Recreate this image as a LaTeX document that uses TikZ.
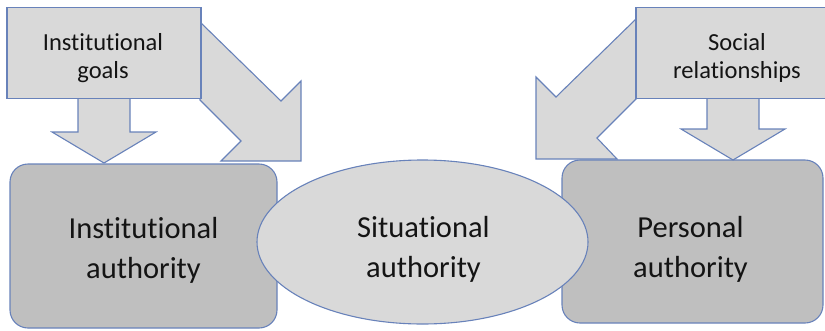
\documentclass[tikz,border=0pt]{standalone}
\usepackage{fontspec}
\setmainfont[Ligatures={NoCommon}]{Carlito}
\usetikzlibrary{shapes.geometric}
\definecolor{edgeblue}{RGB}{104,130,186}
\definecolor{lightfill}{RGB}{217,217,217}
\definecolor{darkfill}{RGB}{191,191,191}
\definecolor{txt}{RGB}{20,20,20}
\tikzset{
  base/.style={draw=edgeblue, line width=1.1pt, line join=miter},
  srcbox/.style={base, fill=lightfill, rectangle, minimum width=194pt, minimum height=91pt, inner sep=0pt},
  authbox/.style={base, fill=darkfill, rectangle, rounded corners=18pt, inner sep=0pt},
  sitell/.style={base, fill=lightfill, ellipse, inner sep=0pt, minimum width=331pt, minimum height=164pt},
  blockarrow/.style={base, fill=lightfill},
  smalltext/.style={text=txt, align=center, inner sep=0pt, font=\fontsize{24.5}{27.5}\selectfont},
  bigtext/.style={text=txt, align=center, inner sep=0pt, font=\fontsize{30.5}{40}\selectfont}
}
\begin{document}
\begin{tikzpicture}[x=1pt,y=-1pt]
\useasboundingbox (0,0) rectangle (825,330);
\clip (0,0) rectangle (825,330);
% authority boxes
\node[authbox, minimum width=267pt, minimum height=164pt] (inst) at (143.5,246) {};
\node[authbox, minimum width=261pt, minimum height=163pt] (pers) at (692.5,241.5) {};
% situational ellipse (on top of the boxes)
\node[sitell] (sit) at (422.5,242) {};
% block arrows
\draw[blockarrow] (78,98) -- (78,132) -- (52,132) -- (104,163) -- (156,132) -- (130,132) -- (130,98) -- cycle;
\draw[blockarrow] (707,98) -- (707,129) -- (681,129) -- (733,160) -- (785,129) -- (759,129) -- (759,98) -- cycle;
\draw[blockarrow] (200,22) -- (281,101) -- (301,81) -- (301,161) -- (221,161) -- (241,141) -- (200,100) -- cycle;
\draw[blockarrow] (637,18) -- (556,97) -- (536,77) -- (536,159) -- (617,159) -- (597,138) -- (637,98) -- cycle;
% source boxes
\node[srcbox] (goals) at (104,53) {};
\node[srcbox] (social) at (733,53) {};
% texts
\node[smalltext] (goalstext) at ([xshift=-1pt,yshift=-5pt]goals.center) {Institutional\\goals};
\node[smalltext] (socialtext) at ([xshift=4pt,yshift=-5pt]social.center) {Social\\relationships};
\node[bigtext] (insttext) at ([yshift=-4pt]inst.center) {Institutional\\authority};
\node[bigtext] (sittext) at ([xshift=1pt,yshift=-7pt]sit.center) {Situational\\authority};
\node[bigtext] (perstext) at ([xshift=-2pt,yshift=-8pt]pers.center) {Personal\\authority};
\end{tikzpicture}
\end{document}
